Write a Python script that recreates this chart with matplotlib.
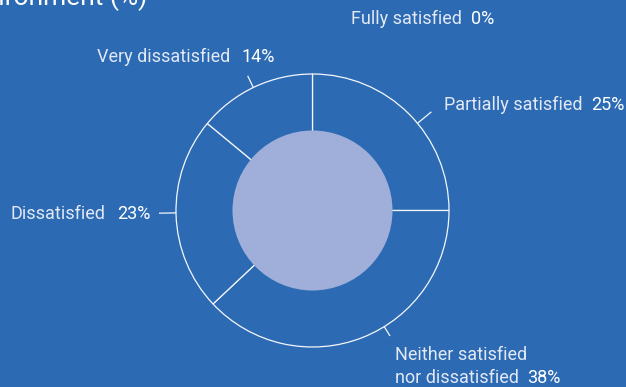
import numpy as np
import matplotlib
matplotlib.use("Agg")
import matplotlib.pyplot as plt
from matplotlib.patches import Circle

# Survey responses (%)
categories = ["Fully satisfied", "Partially satisfied", "Neither satisfied\nnor dissatisfied",
              "Dissatisfied", "Very dissatisfied"]
values = [0, 25, 38, 23, 14]
value_labels = ["0%", "25%", "38%", "23%", "14%"]
title = "Satisfaction with the working environment (%)"

# Canvas in pixel units (y measured from the top)
W, H = 626, 387
BG = "#2c6bb4"
INNER = "#9fafd9"
LINE = "#f4f6fb"
NAME_COL = "#e2e8f4"

cx, cy = 312.5, 210.5
r_out, r_in = 136.5, 80

# label layout: name left x, value right x, baseline y, leader angle (deg), leader length
layout = [
    dict(x0=351, x1=494, y=24, ang=None, ln=0),
    dict(x0=444, x1=625, y=110, ang=39.7, ln=18),
    dict(x0=395, x1=560, y=383, ang=-58.3, ln=11),
    dict(x0=10, x1=150, y=219, ang=181.0, ln=17),
    dict(x0=97, x1=275, y=62, ang=115.7, ln=13),
]

plt.rcParams["font.family"] = ["Roboto", "DejaVu Sans"]

fig = plt.figure(figsize=(W / 100, H / 100), dpi=100, facecolor=BG)
ax = fig.add_axes([0, 0, 1, 1])
ax.set_facecolor(BG)
ax.axis("off")

def Y(y):
    return H - y

ax.pie(values, center=(cx, Y(cy)), radius=r_out, startangle=90, counterclock=False,
       wedgeprops=dict(facecolor=BG, edgecolor=LINE, linewidth=0.9))
ax.add_patch(Circle((cx, Y(cy)), r_in, facecolor=INNER, edgecolor="none", zorder=5))
ax.set_xlim(0, W)
ax.set_ylim(0, H)
ax.set_aspect("equal")

fs = 13
for name, val, lay in zip(categories, value_labels, layout):
    if lay["ang"] is not None:
        a = np.deg2rad(lay["ang"])
        r0, r1 = r_out, r_out + lay["ln"]
        ax.plot([cx + r0 * np.cos(a), cx + r1 * np.cos(a)],
                [Y(cy) + r0 * np.sin(a), Y(cy) + r1 * np.sin(a)],
                color=LINE, lw=0.9, solid_capstyle="butt")
    lines = name.split("\n")
    yb = lay["y"]
    for i, ln in enumerate(reversed(lines)):
        ax.text(lay["x0"], Y(yb - 23 * i), ln, color=NAME_COL, fontsize=fs,
                ha="left", va="baseline")
    ax.text(lay["x1"], Y(yb), val, color="white", fontsize=fs,
            ha="right", va="baseline")

# chart heading, running off the top-left corner
ax.text(147, Y(5), title, color="white", fontsize=19, ha="right", va="baseline")

fig.savefig("out.png", dpi=100, facecolor=BG)
